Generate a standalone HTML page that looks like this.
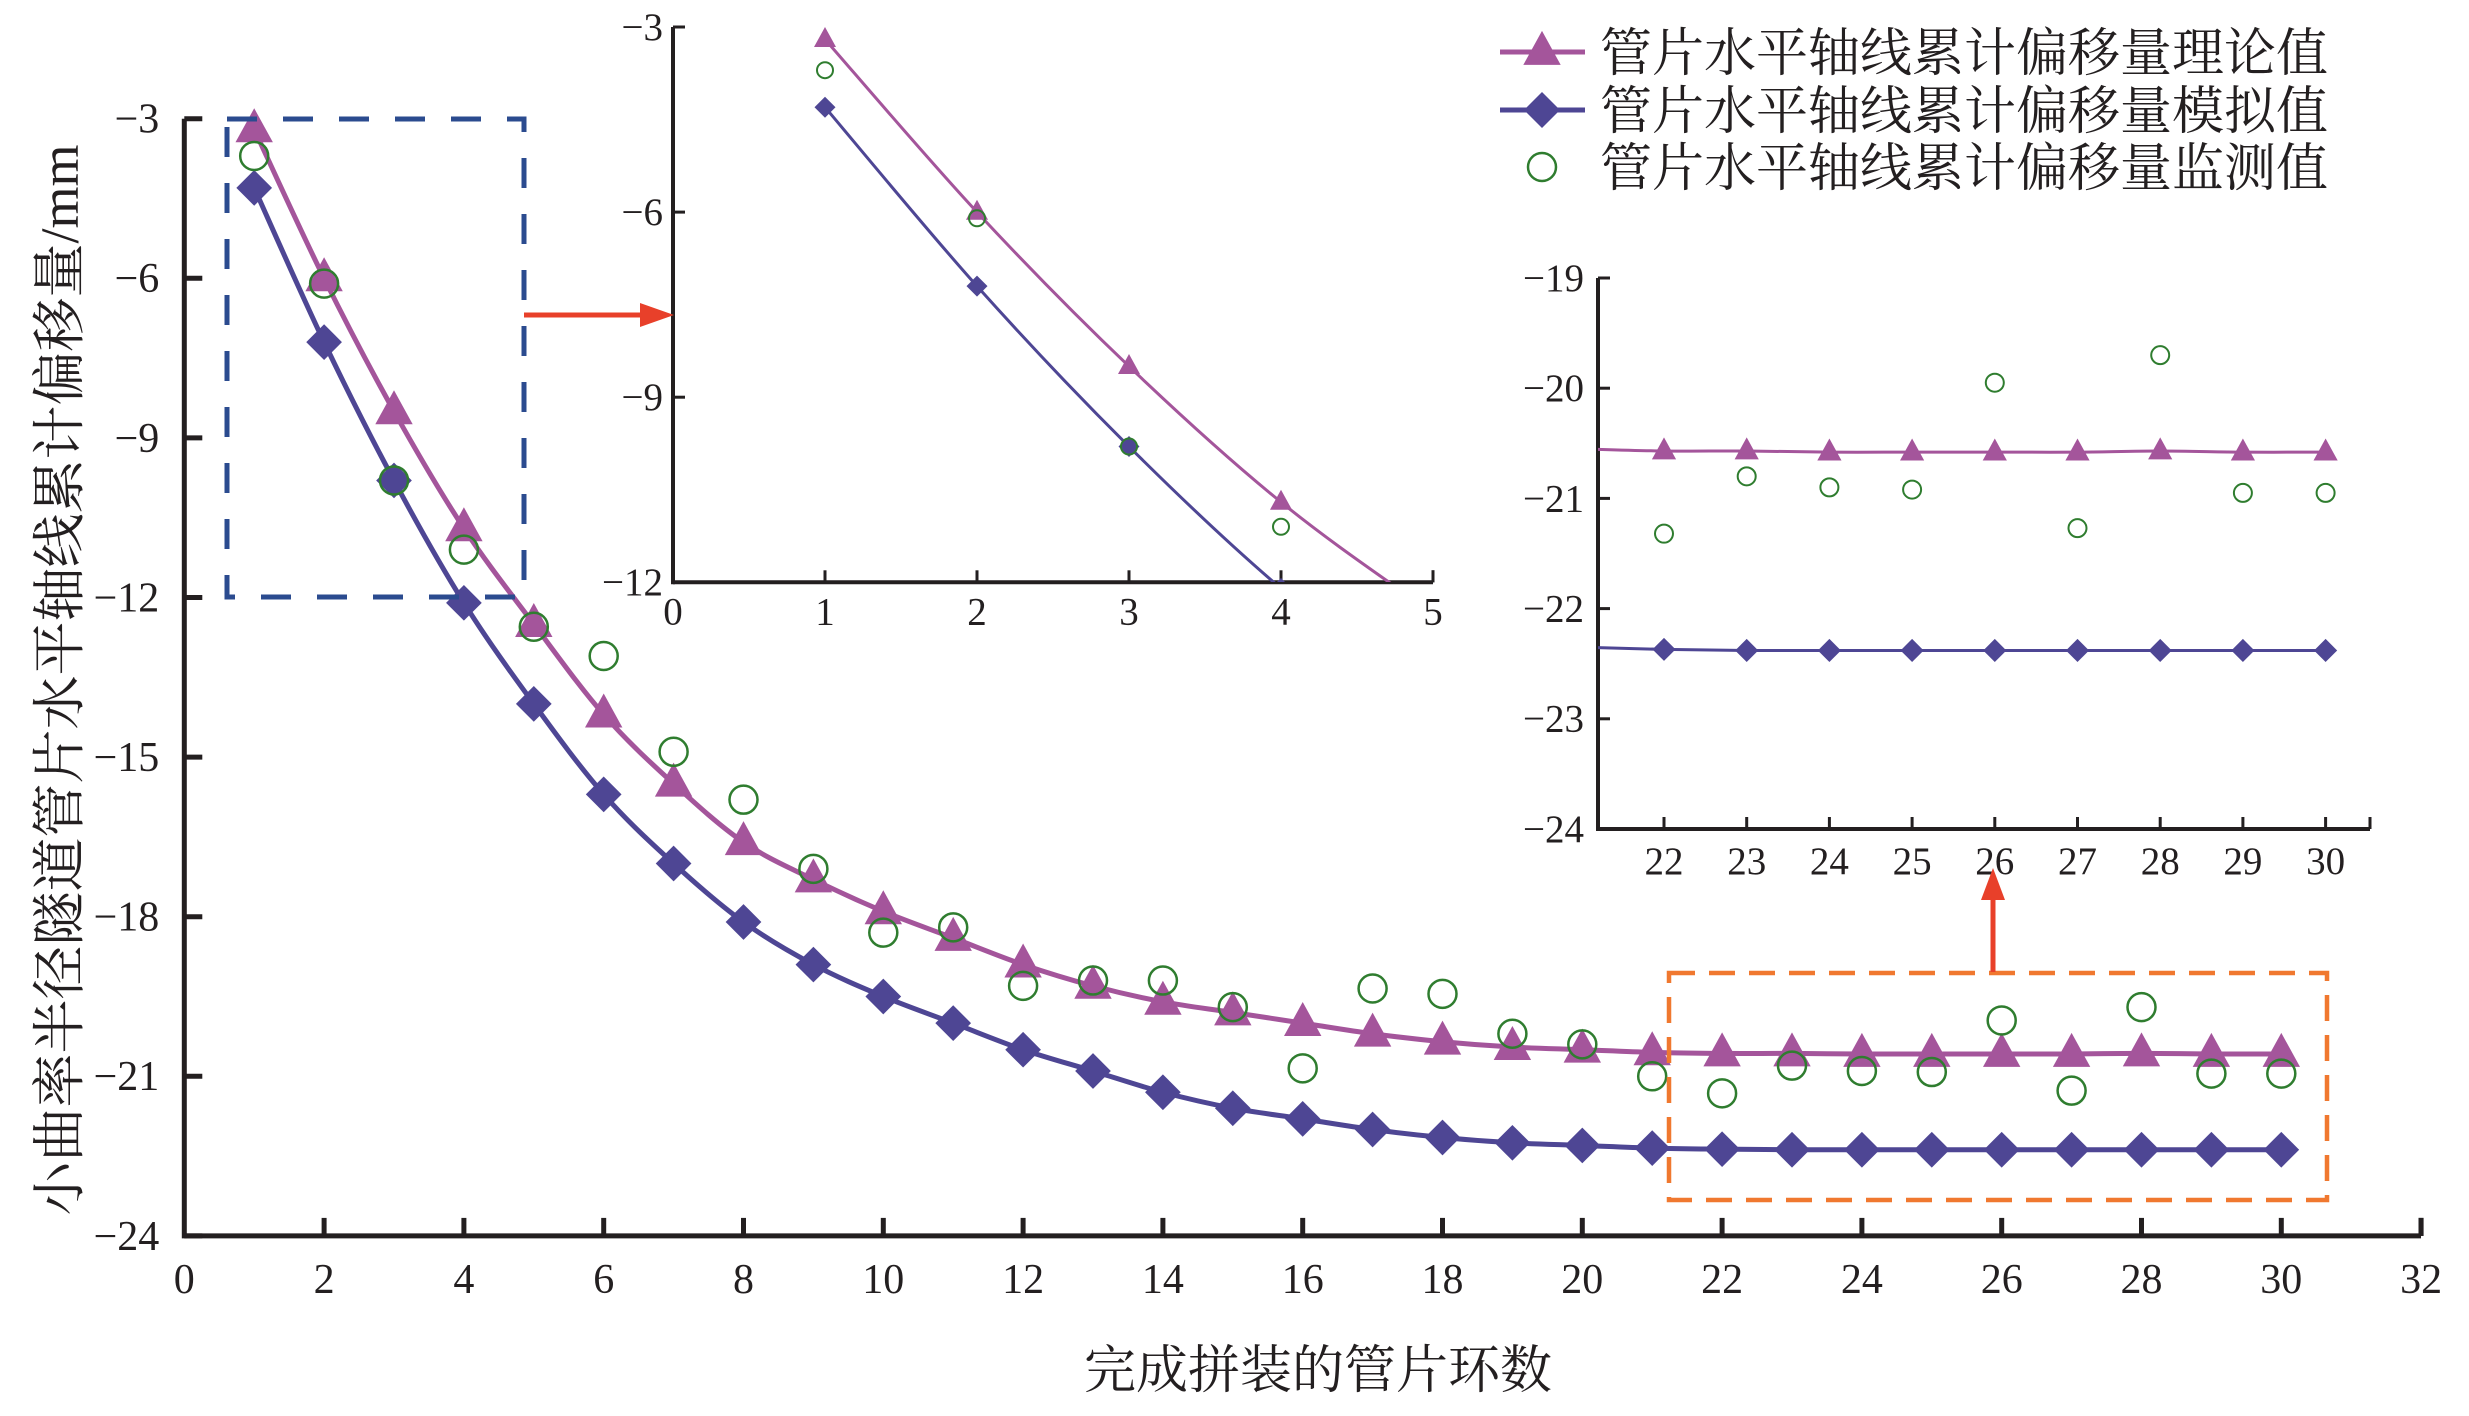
<!DOCTYPE html>
<html><head><meta charset="utf-8">
<style>
html,body{margin:0;padding:0;background:#fff;}
svg{display:block;}
text{font-family:"Liberation Serif","Noto Serif CJK SC",serif;fill:#231f20;}
</style></head>
<body>
<svg id="chart" width="2469" height="1416" viewBox="0 0 2469 1416" xmlns="http://www.w3.org/2000/svg">
<defs>
<clipPath id="clip1"><rect x="673" y="0" width="770" height="582"/></clipPath>
<clipPath id="clip2"><rect x="1598" y="200" width="780" height="629"/></clipPath>
</defs>
<g id="main"></g>
<g id="inset1"></g>
<g id="inset2"></g>
<g id="legend"></g>
</svg>
<script>
const rings = [1,2,3,4,5,6,7,8,9,10,11,12,13,14,15,16,17,18,19,20,21,22,23,24,25,26,27,28,29,30];
const theory = [-3.2,-6.0,-8.5,-10.7,-12.5,-14.2,-15.5,-16.6,-17.3,-17.9,-18.4,-18.9,-19.3,-19.6,-19.8,-20.0,-20.2,-20.35,-20.45,-20.5,-20.55,-20.57,-20.57,-20.58,-20.58,-20.58,-20.58,-20.57,-20.58,-20.58];
const simulated = [-4.3,-7.2,-9.8,-12.1,-14.0,-15.7,-17.0,-18.1,-18.9,-19.5,-20.0,-20.5,-20.9,-21.3,-21.6,-21.8,-22.0,-22.15,-22.25,-22.3,-22.35,-22.37,-22.38,-22.38,-22.38,-22.38,-22.38,-22.38,-22.38,-22.38];
const monitored = [-3.7,-6.1,-9.8,-11.1,-12.55,-13.1,-14.9,-15.8,-17.1,-18.3,-18.2,-19.3,-19.2,-19.2,-19.7,-20.85,-19.35,-19.45,-20.2,-20.4,-21.0,-21.32,-20.8,-20.9,-20.92,-19.95,-21.27,-19.7,-20.95,-20.95];
const mainXTicks = [0,2,4,6,8,10,12,14,16,18,20,22,24,26,28,30,32];
const mainYTicks = [-3,-6,-9,-12,-15,-18,-21,-24];
const in1XTicks = [0,1,2,3,4,5];
const in1YTicks = [-3,-6,-9,-12];
const in2XTicks = [22,23,24,25,26,27,28,29,30];
const in2YTicks = [-19,-20,-21,-22,-23,-24];
const legendLabels = ["管片水平轴线累计偏移量理论值","管片水平轴线累计偏移量模拟值","管片水平轴线累计偏移量监测值"];

const NS="http://www.w3.org/2000/svg";
const MAG="#a4559b", PUR="#4e4694", GRN="#2f7d2f";
function el(parent,tag,attrs,name){const e=document.createElementNS(NS,tag);for(const k in attrs)e.setAttribute(k,attrs[k]);


parent.appendChild(e);return e;}
function txt(parent,x,y,s,size,anchor,name){const t=el(parent,'text',{x:x,y:y,'font-size':size,'text-anchor':anchor||'middle'},name);t.textContent=s;return t;}
function smooth(pts){let d='M'+pts[0][0]+','+pts[0][1];for(let i=0;i<pts.length-1;i++){const p0=pts[i-1]||pts[i],p1=pts[i],p2=pts[i+1],p3=pts[i+2]||p2;
const c1=[p1[0]+(p2[0]-p0[0])/6,p1[1]+(p2[1]-p0[1])/6],c2=[p2[0]-(p3[0]-p1[0])/6,p2[1]-(p3[1]-p1[1])/6];
d+=' C'+c1[0]+','+c1[1]+' '+c2[0]+','+c2[1]+' '+p2[0]+','+p2[1];}return d;}
function tri(g,x,y,s,name){return el(g,'polygon',{points:`${x},${y-s*0.62} ${x-s*0.55},${y+s*0.38} ${x+s*0.55},${y+s*0.38}`,fill:MAG},name);}
function dia(g,x,y,s,name){return el(g,'polygon',{points:`${x},${y-s/2} ${x+s/2},${y} ${x},${y+s/2} ${x-s/2},${y}`,fill:PUR},name);}
function circ(g,x,y,r,w,name){return el(g,'circle',{cx:x,cy:y,r:r,fill:'none',stroke:GRN,'stroke-width':w},name);}

function panel(g,cfg){
  const X=v=>cfg.x0+(v-cfg.xmin)*cfg.xu, Y=v=>cfg.y0+(cfg.ymax-v)*cfg.yu;
  const yb=Y(cfg.ymin);
  el(g,'line',{x1:cfg.axX,y1:Y(cfg.ymax),x2:cfg.axX,y2:yb+cfg.aw/2,stroke:'#231f20','stroke-width':cfg.aw},'y-axis');
  el(g,'line',{x1:cfg.axX,y1:yb,x2:cfg.axRight,y2:yb,stroke:'#231f20','stroke-width':cfg.aw},'x-axis');
  cfg.xt.forEach(v=>{ if(v!==cfg.xmin||cfg.xTickAtMin) el(g,'line',{x1:X(v),y1:yb,x2:X(v),y2:yb-cfg.tl,stroke:'#231f20','stroke-width':cfg.tw},'x-tick');
    txt(g,X(v),yb+cfg.xlo,String(v),cfg.fs,'middle','x-tick-label');});
  if(cfg.rightTick) el(g,'line',{x1:cfg.axRight,y1:yb,x2:cfg.axRight,y2:yb-cfg.tl,stroke:'#231f20','stroke-width':cfg.tw},'x-tick');
  cfg.yt.forEach(v=>{ el(g,'line',{x1:cfg.axX,y1:Y(v),x2:cfg.axX+cfg.tl,y2:Y(v),stroke:'#231f20','stroke-width':cfg.tw},'y-tick');
    txt(g,cfg.axX-cfg.ylo,Y(v)+cfg.fs*0.33,String(v).replace('-','\u2212'),cfg.fs,'end','y-tick-label');});
  const sel=cfg.sel;
  const gg=el(g,'g',cfg.clip?{'clip-path':'url(#'+cfg.clip+')'}:{},'series-group');
  const ptsT=[],ptsS=[];
  rings.forEach((r,i)=>{ if(sel(r,true)){ptsT.push([X(r),Y(theory[i])]);ptsS.push([X(r),Y(simulated[i])]);} });
  el(gg,'path',{d:smooth(ptsT),fill:'none',stroke:MAG,'stroke-width':cfg.lw},'theory-line');
  el(gg,'path',{d:smooth(ptsS),fill:'none',stroke:PUR,'stroke-width':cfg.lw},'simulated-line');
  rings.forEach((r,i)=>{ if(!sel(r,false))return;
    dia(gg,X(r),Y(simulated[i]),cfg.ms*1.05,'simulated-point');
    tri(gg,X(r),Y(theory[i]),cfg.ms,'theory-point');
    circ(gg,X(r),Y(monitored[i]),cfg.cr,cfg.cw,'monitored-point');
  });
  return {X,Y};
}
const main=document.getElementById('main');
panel(main,{x0:184.3,xmin:0,xu:69.9,y0:118.7,ymax:-3,ymin:-24,yu:53.2,axX:184.3,axRight:2421,aw:5,tw:5,tl:18,fs:42,xlo:57,ylo:25,
  xt:mainXTicks,yt:mainYTicks,lw:5,ms:34,cr:14,cw:2.5,sel:(r)=>true,rightTick:true});
const i1=document.getElementById('inset1');
panel(i1,{x0:673,xmin:0,xu:152,y0:27,ymax:-3,ymin:-12,yu:61.7,axX:673,axRight:1433,aw:4,tw:3,tl:12,fs:39,xlo:42,ylo:10,
  xt:in1XTicks,yt:in1YTicks,lw:3,ms:20,cr:8,cw:2,sel:(r,line)=>line?r<=6:r<=4,clip:'clip1',rightTick:true});
const i2=document.getElementById('inset2');
panel(i2,{x0:1664,xmin:22,xu:82.7,y0:278,ymax:-19,ymin:-24,yu:110.2,axX:1598,axRight:2370,aw:4,tw:3,tl:12,fs:39,xlo:45,ylo:14,
  xt:in2XTicks,yt:in2YTicks,lw:3,ms:22,cr:9,cw:2,sel:(r,line)=>line?r>=21:r>=22,clip:'clip2',rightTick:true,xTickAtMin:true});

const svg=document.getElementById('chart');
el(svg,'rect',{x:227,y:119,width:297,height:478,fill:'none',stroke:'#2b4b8f','stroke-width':5,'stroke-dasharray':'30 26'},'zoom-box-early');
el(svg,'rect',{x:1669,y:973,width:658,height:227,fill:'none',stroke:'#f0782f','stroke-width':4.5,'stroke-dasharray':'26 14'},'zoom-box-late');
el(svg,'line',{x1:524,y1:315,x2:645,y2:315,stroke:'#e8402a','stroke-width':5},'arrow-to-inset1');
el(svg,'polygon',{points:'674,315 640,303 640,327',fill:'#e8402a'},'arrow-head-inset1');
el(svg,'line',{x1:1993,y1:972,x2:1993,y2:895,stroke:'#e8402a','stroke-width':5},'arrow-to-inset2');
el(svg,'polygon',{points:'1993,868 1981,900 2005,900',fill:'#e8402a'},'arrow-head-inset2');
const yt=txt(svg,0,0,'小曲率半径隧道管片水平轴线累计偏移量/mm',54,'middle','y-axis-title');
yt.setAttribute('transform','translate(78,680) rotate(-90)');
txt(svg,1318,1388,'完成拼装的管片环数',52,'middle','x-axis-title');
const lg=document.getElementById('legend');
const ly=[52,110,167];
el(lg,'line',{x1:1500,y1:ly[0],x2:1585,y2:ly[0],stroke:MAG,'stroke-width':5},'legend-theory-line');
tri(lg,1542,ly[0],34,'legend-theory-marker');
el(lg,'line',{x1:1500,y1:ly[1],x2:1585,y2:ly[1],stroke:PUR,'stroke-width':5},'legend-simulated-line');
dia(lg,1542,ly[1],36,'legend-simulated-marker');
circ(lg,1542,ly[2],14,2.5,'legend-monitored-marker');
legendLabels.forEach((s,i)=>txt(lg,1600,ly[i]+19,s,52,'start','legend-label'));
</script>
</body></html>
